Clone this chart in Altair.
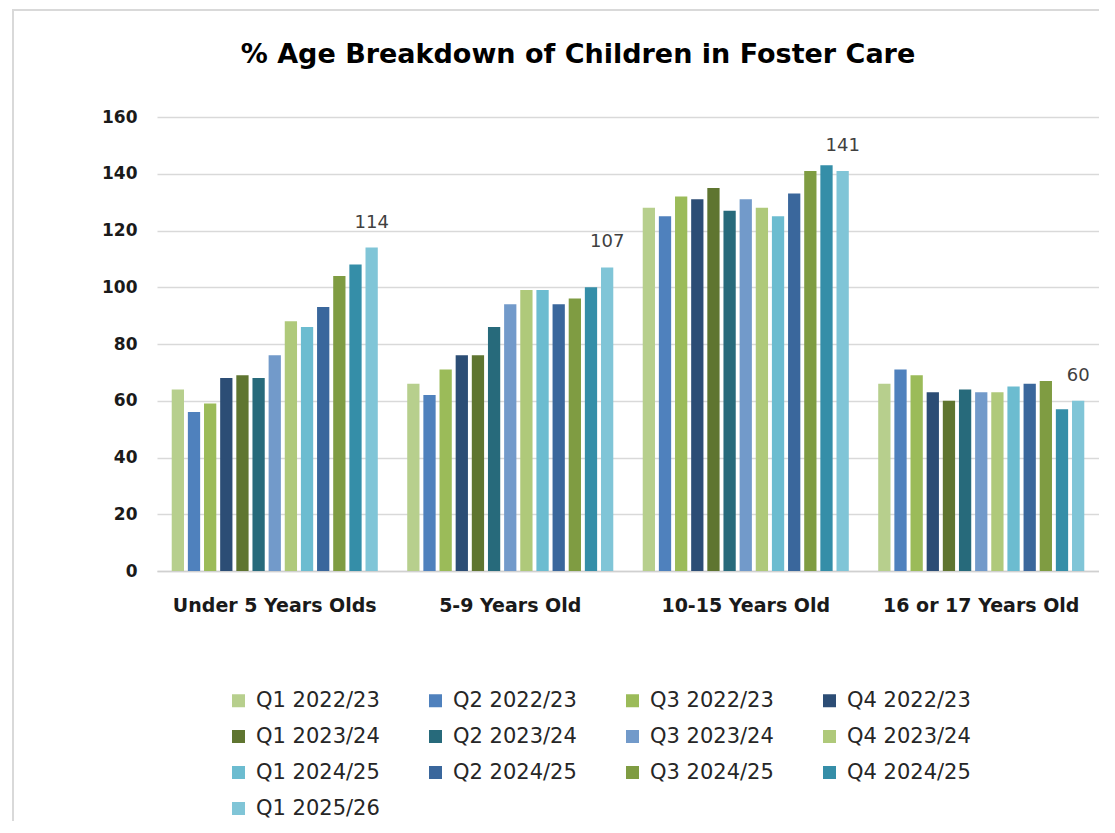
import altair as alt
import pandas as pd

categories = ["Under 5 Years Olds", "5-9 Years Old", "10-15 Years Old", "16 or 17 Years Old"]
quarters = ["Q1 2022/23", "Q2 2022/23", "Q3 2022/23", "Q4 2022/23",
            "Q1 2023/24", "Q2 2023/24", "Q3 2023/24", "Q4 2023/24",
            "Q1 2024/25", "Q2 2024/25", "Q3 2024/25", "Q4 2024/25",
            "Q1 2025/26"]
colors = ["#B7CF8D", "#4F81BD", "#9BBB59", "#2C4D75",
          "#5F7530", "#276A7B", "#729ACA", "#AFC97A",
          "#6CBCD0", "#3A679C", "#7F9C42", "#358EA8",
          "#80C5D7"]

under5 = [64, 56, 59, 68, 69, 68, 76, 88, 86, 93, 104, 108, 114]
age5_9 = [66, 62, 71, 76, 76, 86, 94, 99, 99, 94, 96, 100, 107]
age10_15 = [128, 125, 132, 131, 135, 127, 131, 128, 125, 133, 141, 143, 141]
age16_17 = [66, 71, 69, 63, 60, 64, 63, 63, 65, 66, 67, 57, 60]

y_ticks = [0, 20, 40, 60, 80, 100, 120, 140, 160]
labelled_quarter = "Q1 2025/26"

rows = []
for cat, vals in zip(categories, [under5, age5_9, age10_15, age16_17]):
    for i, (q, v) in enumerate(zip(quarters, vals)):
        rows.append({"age": cat, "quarter": q, "order": i, "value": v})
df = pd.DataFrame(rows)

FONT = "DejaVu Sans"

x_enc = alt.X("age:N", sort=categories, title=None,
              scale=alt.Scale(paddingInner=0.125, paddingOuter=0.0625),
              axis=alt.Axis(labelAngle=0, labelFontSize=19, labelFontWeight="bold",
                            labelColor="#1a1a1a", labelPadding=25, ticks=False, labelLimit=400,
                            domainColor="#d0d0d0", domainWidth=1.3, labelBaseline="top"))
xo_enc = alt.XOffset("quarter:N", sort=quarters,
                     scale=alt.Scale(domain=quarters, paddingInner=0.24, paddingOuter=0))
y_enc = alt.Y("value:Q", title=None,
              scale=alt.Scale(domain=[0, 160], nice=False),
              axis=alt.Axis(values=y_ticks, labelFontSize=17, labelFontWeight="bold",
                            labelColor="#1a1a1a", labelPadding=20, ticks=False, domain=False,
                            gridColor="#d9d9d9", gridWidth=1.3))

bars = alt.Chart(df).mark_bar().encode(
    x=x_enc,
    xOffset=xo_enc,
    y=y_enc,
    color=alt.Color("quarter:N", title=None, sort=quarters,
                    scale=alt.Scale(domain=quarters, range=colors),
                    legend=alt.Legend(orient="none", legendX=71, legendY=573, columns=4,
                                      values=quarters, direction="horizontal",
                                      symbolType="square", symbolSize=169, symbolStrokeWidth=0,
                                      labelFontSize=21, labelColor="#262626", labelOffset=7,
                                      columnPadding=45, rowPadding=14, padding=0,
                                      labelLimit=300)),
)

labels = alt.Chart(df).transform_filter(
    alt.datum.quarter == labelled_quarter
).mark_text(baseline="alphabetic", dy=-20, fontSize=18, color="#404040").encode(
    x=alt.X("age:N", sort=categories),
    xOffset=alt.XOffset("quarter:N", sort=quarters),
    y=alt.Y("value:Q"),
    text=alt.Text("value:Q"),
)

frame_src = alt.Data(values=[{"k": 1}])
frame_top = alt.Chart(frame_src).mark_rule(color="#d9d9d9", strokeWidth=2).encode(
    x=alt.value(-145), x2=alt.value(960), y=alt.value(-107))
frame_left = alt.Chart(frame_src).mark_rule(color="#d9d9d9", strokeWidth=2).encode(
    x=alt.value(-144), y=alt.value(-107), y2=alt.value(720))

chart = alt.layer(bars, labels, frame_top, frame_left).properties(
    width=942,
    height=454,
    padding={"left": 149, "top": 109, "right": 0, "bottom": 250},
    autosize=alt.AutoSizeParams(type="none"),
    title=alt.TitleParams("% Age Breakdown of Children in Foster Care", fontSize=27,
                          fontWeight="bold", color="#000000", anchor="middle",
                          dx=-50, offset=-60, font=FONT),
).configure(font=FONT).configure_view(stroke=None)

chart.save("out.html", embed_options={"renderer": "svg", "actions": False})
